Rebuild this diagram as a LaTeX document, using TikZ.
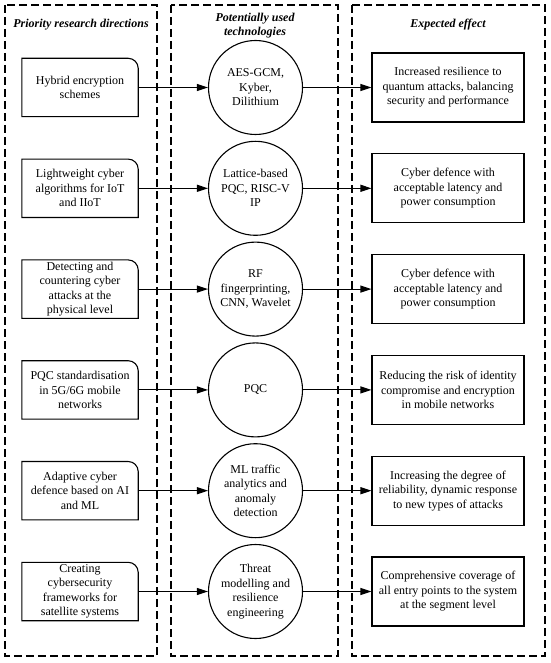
\documentclass[tikz,border=0pt]{standalone}
\usepackage{fontspec}
\setmainfont{Liberation Serif}
\usetikzlibrary{arrows.meta}
\begin{document}
\begin{tikzpicture}[x=1pt,y=1pt,
  lane/.style={draw, dash pattern=on 8pt off 4pt, line width=1.2pt},
  head/.style={font=\fontsize{12}{14.5}\selectfont\bfseries\itshape, align=center},
  txt/.style={font=\fontsize{12}{14.5}\selectfont, align=center},
  src/.style={txt, minimum width=116pt, minimum height=58pt, inner sep=0pt},
  srcline/.style={draw, line width=1.1pt},
  tech/.style={txt, circle, draw, line width=1.1pt, minimum size=94pt, inner sep=0pt},
  eff/.style={txt, draw, line width=1.1pt, minimum width=152pt, minimum height=69pt, inner sep=0pt},
  link/.style={-{Triangle[length=11pt,width=7pt]}, line width=1.1pt}
]
\useasboundingbox (0,0) rectangle (550,-663);
\draw[lane] (5,-5) rectangle (157,-656);
\draw[lane] (171,-5) rectangle (338,-656);
\draw[lane] (352,-5) rectangle (545,-656);

\node[head] (h1) at (81,-25) {Priority research directions};
\node[head] (h2) at (255,-25.5) {Potentially used\\technologies};
\node[head] (h3) at (448,-25) {Expected effect};

\foreach \i/\y/\a/\b/\c in {
  1/87.5/{Hybrid encryption\\schemes}/{AES-GCM,\\Kyber,\\Dilithium}/{Increased resilience to\\quantum attacks, balancing\\security and performance},
  2/188.3/{Lightweight cyber\\algorithms for IoT\\and IIoT}/{Lattice-based\\PQC, RISC-V\\IP}/{Cyber defence with\\acceptable latency and\\power consumption},
  3/289.1/{Detecting and\\countering cyber\\attacks at the\\physical level}/{RF\\fingerprinting,\\CNN, Wavelet}/{Cyber defence with\\acceptable latency and\\power consumption},
  4/389.9/{PQC standardisation\\in 5G/6G mobile\\networks}/{PQC}/{Reducing the risk of identity\\compromise and encryption\\in mobile networks},
  5/490.7/{Adaptive cyber\\defence based on AI\\and ML}/{ML traffic\\analytics and\\anomaly\\detection}/{Increasing the degree of\\reliability, dynamic response\\to new types of attacks},
  6/591.5/{Creating\\cybersecurity\\frameworks for\\satellite systems}/{Threat\\modelling and\\resilience\\engineering}/{Comprehensive coverage of\\all entry points to the system\\at the segment level}}
{
  \node[src] (s\i) at (80,-\y) {\a};
  \draw[srcline] (s\i.south west) -- (s\i.north west) -- ([xshift=-10pt]s\i.north east)
     arc[start angle=90, end angle=0, radius=10pt] -- (s\i.south east) -- cycle;
  \node[tech] (t\i) at (255.5,-\y) {\b};
  \node[eff] (e\i) at (448,-\y) {\c};
  \draw[link] (s\i.east) -- (t\i.west);
  \draw[link] (t\i.east) -- (e\i.west);
}
\end{tikzpicture}
\end{document}
